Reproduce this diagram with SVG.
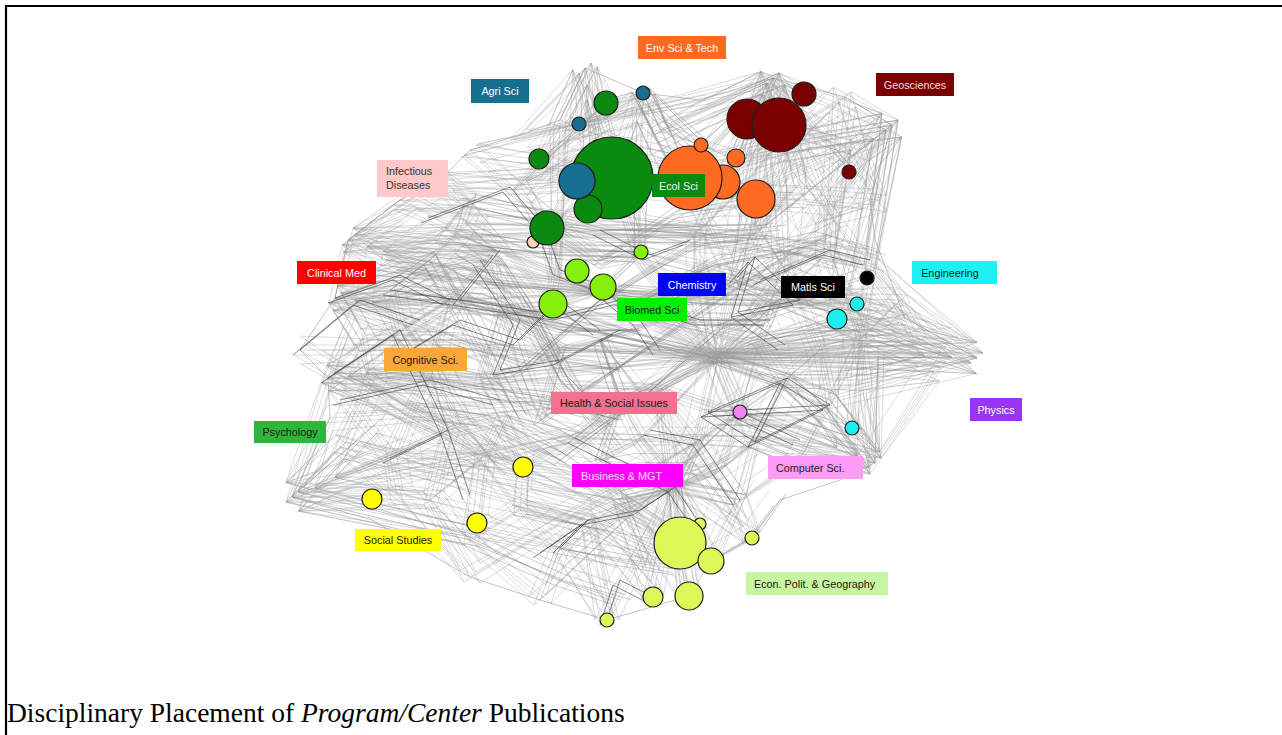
<svg xmlns="http://www.w3.org/2000/svg" width="1282" height="735" viewBox="0 0 1282 735">
<style>
.e{fill:none;stroke:#9c9c9c;stroke-width:0.85;stroke-opacity:0.42;stroke-linejoin:round}
.p{fill:none;stroke:#a0a0a0;stroke-width:0.9;stroke-opacity:0.7;stroke-linejoin:round}
.m{fill:none;stroke:#707070;stroke-width:0.85;stroke-opacity:0.4}
.d{fill:none;stroke:#3a3a3a;stroke-width:1;stroke-opacity:0.6}
.n{stroke:#1e1e1e;stroke-width:1.2}
.t{font-family:"Liberation Sans",Arial,sans-serif;font-size:10.8px}
.cap{font-family:"Liberation Serif","Times New Roman",serif;font-size:27.5px;fill:#000}
</style>
<defs>
<g id="mesh">
<path class="e" d="M470,150 L540,160 L520,185 L440,180 L470,200 L460,230 L545,228 L520,185 L610,140 L560,120 M400,200 L470,200 L440,235 L380,265 L430,260 L490,255 L460,230 L430,260 L390,290 L335,298 M348,240 L440,235 L490,255 L555,275 L545,228 L600,260 L640,252 L640,220 L700,230 L700,265 M640,220 L610,140 L700,160 L740,190 L700,230 L760,230 L740,190 L790,130 L800,180 L760,230 M800,180 L830,215 L880,200 L860,150 L790,130 L845,97 L860,150 L892,125 L880,200 L870,260 M830,215 L830,250 L870,260 L900,300 L860,340 L830,250 L785,270 L760,230 L735,280 L785,270 M735,280 L770,320 L785,270 L820,350 L860,340 L920,342 L900,300 L977,358 L920,342 L878,357 M700,265 L680,300 L660,320 L600,290 L555,275 L550,305 L600,290 L640,252 L680,300 L735,280 M550,305 L500,310 L450,300 L490,255 L500,310 L560,350 L600,340 L660,320 L760,340 L770,320 M450,300 L400,330 L390,290 L430,260 L450,300 L430,370 L400,330 L360,340 L335,298 L390,290 M360,340 L370,380 L430,370 L480,380 L500,310 L520,370 L560,350 L540,420 L520,370 L480,380 M370,380 L410,410 L448,430 L430,370 L410,410 L390,458 L340,447 L370,380 L328,378 L360,340 M448,430 L500,420 L480,380 L540,420 L575,438 L600,460 L620,400 L600,340 L620,400 L660,390 M660,390 L700,440 L640,440 L620,400 L575,438 L640,440 L600,460 L620,500 L680,487 L640,440 M500,420 L480,460 L448,430 L430,500 L480,460 L523,467 L500,420 L575,438 L523,467 L520,510 M430,500 L397,495 L390,458 L480,460 L470,540 L520,510 L560,548 L588,520 L520,510 L480,460 M470,540 L540,600 L560,548 L607,620 L588,520 L653,597 L620,500 L689,596 L680,543 L620,500 M397,495 L470,577 L430,500 L470,540 L292,497 L397,495 L340,447 L292,497 M760,340 L785,380 L820,350 L830,400 L785,380 L740,412 L760,340 L718,358 L785,380 M830,400 L800,460 L755,442 L785,380 L875,463 L830,400 L852,428 L860,340 L830,400 M720,470 L755,442 L740,500 L720,470 L700,440 L755,442 L800,460 L740,500 L752,538 L780,500 M680,487 L720,470 L740,412 L700,440 L680,487 L740,500 L711,561 L752,538 M540,160 L612,178 L545,228 L577,181 L520,185 L606,103 L540,160 M660,130 L700,110 L773,78 L740,160 L660,130 L643,93 L700,145 L773,78 M790,130 L740,160 L800,140 L892,125 L845,97 L800,140 L760,230"/>
<path class="e" d="M335,298 L600,290 M348,240 L640,252 M400,200 L700,230 M380,265 L720,300 M300,350 L560,350 M328,378 L660,390 M292,497 L575,438 M330,418 L620,400 M470,577 L700,440 M540,600 L740,412 M600,290 L900,300 M640,252 L905,318 M700,230 L870,260 M545,228 L830,250 M612,178 L880,200 M500,310 L770,320 M560,350 L878,357 M450,300 L718,358 M470,150 L773,78 M520,135 L700,100 M440,180 L700,160 M460,230 L760,230 M348,240 L560,350 M400,200 L600,290 M440,180 L550,305 M470,150 L600,260 M335,298 L520,370 M300,350 L480,460 M328,378 L523,467 M340,447 L588,520 M390,458 L620,500 M292,497 L560,548 M448,430 L680,543 M500,420 L711,561 M600,340 L752,538 M660,390 L875,463 M718,358 L977,358 M700,265 L952,342 M735,280 L940,367 M785,270 L977,358 M830,215 L905,318 M892,125 L860,340 M845,97 L830,250 M773,78 L785,270 M643,93 L735,280 M585,68 L640,252 M560,120 L555,275"/>
<path class="e" d="M718,358 L600,290 M718,358 L640,252 M718,358 L660,320 M718,358 L700,265 M718,358 L735,280 M718,358 L770,320 M718,358 L785,270 M718,358 L830,250 M718,358 L837,319 M718,358 L878,357 M718,358 L905,318 M718,358 L940,367 M718,358 L785,380 M718,358 L740,412 M718,358 L660,390 M718,358 L620,400 M718,358 L575,438 M718,358 L550,305 M718,358 L500,310 M718,358 L700,440 M718,358 L755,442 M718,358 L830,400 M718,358 L860,340 M718,358 L952,342 M718,358 L600,340 M718,358 L480,380 M718,358 L560,350 M718,358 L640,440 M718,358 L680,300"/>
<path class="e" d="M675,487 L680,543 M675,487 L700,524 M675,487 L711,561 M675,487 L689,596 M675,487 L653,597 M675,487 L588,520 M675,487 L560,548 M675,487 L620,500 M675,487 L740,500 M675,487 L752,538 M675,487 L700,440 M675,487 L755,442 M675,487 L720,470 M675,487 L523,467 M675,487 L600,460 M675,487 L607,620 M675,487 L640,440 M675,487 L660,390"/>
<path class="e" d="M773,78 L700,110 M773,78 L740,160 M773,78 L805,95 M773,78 L892,125 M773,78 L830,215 M773,78 L760,230 M773,78 L700,230 M773,78 L660,130 M773,78 L800,180 M773,78 L850,172 M773,78 L880,200 M773,78 L735,280 M773,78 L700,160 M773,78 L790,130 M892,125 L830,215 M892,125 L850,172 M892,125 L800,140 M892,125 L760,230 M892,125 L870,260 M892,125 L700,160 M892,125 L785,270 M892,125 L840,300 M892,125 L740,190 M585,68 L560,120 M585,68 L580,124 M585,68 L606,103 M585,68 L612,178 M585,68 L540,160 M585,68 L590,150 M585,68 L520,135 M643,93 L606,103 M643,93 L660,130 M643,93 L700,145 M643,93 L640,220 M643,93 L580,124 M643,93 L620,160 M643,93 L680,170 M643,93 L540,160"/>
<path class="e" d="M875,463 L852,428 M875,463 L830,400 M875,463 L785,380 M875,463 L755,442 M875,463 L800,460 M875,463 L860,400 M875,463 L940,367 M875,463 L878,357 M875,463 L740,412 M875,463 L860,340 M292,497 L330,418 M292,497 L340,447 M292,497 L390,458 M292,497 L448,430 M292,497 L470,540 M292,497 L328,378 M292,497 L380,420 M292,497 L430,500 M328,378 L390,458 M328,378 L448,430 M328,378 L400,330 M328,378 L350,320 M328,378 L430,370 M328,378 L480,380 M328,378 L390,400 M328,378 L450,300 M335,298 L400,330 M335,298 L430,300 M335,298 L348,240 M335,298 L430,260 M335,298 L500,310 M335,298 L360,340 M335,298 L460,330 M335,298 L490,255 M348,240 L400,200 M348,240 L380,265 M348,240 L430,260 M348,240 L460,230 M348,240 L490,255 M348,240 L410,215 M348,240 L440,180 M977,358 L905,318 M977,358 L878,357 M977,358 L860,340 M977,358 L837,319 M977,358 L870,260 M977,358 L830,400"/>
<path class="m" d="M470,200 L600,230 L700,230 M440,235 L560,250 L640,252 M380,265 L500,280 L600,290 L700,300 M390,290 L480,300 L560,330 L640,330 M360,340 L460,340 L540,360 L620,370 M370,380 L460,390 L540,400 L620,420 M410,410 L480,420 L560,460 M450,260 L520,300 L560,380 L600,420 M490,255 L540,330 L580,400 L620,450 M430,260 L470,330 L520,420 M400,330 L460,420 L500,470 M540,420 L600,380 L660,340 L720,300 L780,260 L840,230 M560,460 L640,400 L720,330 L800,300 L860,280 M600,260 L680,210 L740,200 L800,200 M520,370 L600,300 L700,240 L780,230 M640,300 L720,260 L820,240 L880,260 M700,300 L790,300 L870,300 M760,340 L840,330 L900,330 M785,380 L860,380 L940,367 M720,420 L800,420 L860,440 M580,480 L640,470 L700,470 M520,510 L600,530 L660,560 M470,540 L560,580 L620,600 M560,548 L620,560 L680,570"/>
</g>
<g id="meshd">
<path class="d" d="M428,218 L510,187 L545,228 M390,290 L560,315 L620,300 L680,300 M737,278 L755,257 L738,312 L800,300 L755,257 M738,312 L785,345 M708,412 L787,378 L830,405 L755,442 L708,412 L830,405 M787,378 L755,442 M740,412 L800,440 M540,553 L588,520 L560,548 M588,520 L640,510 L675,487 M335,298 L400,275 L450,300 M340,400 L430,380 L500,400 M328,378 L400,330 L448,430 M390,458 L448,430 L470,495 M480,260 L520,320 L500,370 L560,360 L620,330 M600,230 L650,255 L690,240 M640,300 L700,320 L770,320 M760,280 L830,250 L870,260 M300,350 L360,300 L420,320 M650,430 L700,440 L740,500 M607,620 L620,580 L653,597 M675,487 L700,524 M575,438 L640,470 L675,487 M410,350 L460,320 L520,340 L560,300 L600,330 M460,300 L500,250 M545,228 L560,270 L600,285 M600,287 L640,320 L660,350"/>
</g>
</defs>
<rect x="0" y="0" width="1282" height="735" fill="#fff"/>
<path d="M6,735 L6,6 L1282,6" fill="none" stroke="#000" stroke-width="2.2"/>
<g id="connectors">
<path class="p" d="M585,68 L643,93 L700,100 L773,78 L845,97 L892,125 L870,200 L875,240 L905,318 L977,358 L940,367 L878,357 L875,463 L840,480 L780,500 L751,538 L711,561 L689,596 L607,620 L540,600 L470,577 L372,520 L292,497 L330,418 L328,378 L300,350 L335,298 L348,240 L400,200 L440,180 L470,150 L520,135 L560,120 L585,68 Z"/>
<use href="#mesh"/>
<use href="#mesh" transform="translate(6,-5)"/>
<use href="#mesh" transform="translate(-6,5)"/>
<use href="#mesh" transform="rotate(2.5 620 350)"/>
<use href="#mesh" transform="rotate(-2.5 620 350)"/>
<use href="#mesh" transform="matrix(0.93 0 0 0.94 43.4 21)"/>
<use href="#mesh" transform="matrix(0.86 0 0 0.88 84 40)"/>
<use href="#meshd"/>
<use href="#meshd" transform="translate(-7,5)"/>
</g>
<g id="node-ecol-1"><circle class="n" cx="612" cy="178" r="41" fill="#0b8a10"/></g>
<g id="node-ecol-2"><circle class="n" cx="606" cy="103" r="12" fill="#0b8a10"/></g>
<g id="node-ecol-3"><circle class="n" cx="539" cy="159" r="10" fill="#0b8a10"/></g>
<g id="node-ecol-4"><circle class="n" cx="588" cy="209" r="14" fill="#0b8a10"/></g>
<g id="node-infect"><circle class="n" cx="533" cy="242" r="6" fill="#fbd3b2"/></g>
<g id="node-ecol-5"><circle class="n" cx="547" cy="228" r="17" fill="#0b8a10"/></g>
<g id="node-agri-1"><circle class="n" cx="577" cy="181" r="18" fill="#176f90"/></g>
<g id="node-agri-2"><circle class="n" cx="643" cy="93" r="7" fill="#176f90"/></g>
<g id="node-agri-3"><circle class="n" cx="579" cy="124" r="7" fill="#176f90"/></g>
<g id="node-env-1"><circle class="n" cx="723" cy="182" r="17" fill="#fd6a22"/></g>
<g id="node-env-2"><circle class="n" cx="690" cy="178" r="32" fill="#fd6a22"/></g>
<g id="node-env-3"><circle class="n" cx="701" cy="145" r="7" fill="#fd6a22"/></g>
<g id="node-env-4"><circle class="n" cx="736" cy="158" r="9" fill="#fd6a22"/></g>
<g id="node-env-5"><circle class="n" cx="756" cy="199" r="19" fill="#fd6a22"/></g>
<g id="node-geo-1"><circle class="n" cx="747" cy="119" r="20" fill="#7a0000"/></g>
<g id="node-geo-2"><circle class="n" cx="779" cy="125" r="27" fill="#7a0000"/></g>
<g id="node-geo-3"><circle class="n" cx="804" cy="94" r="12" fill="#7a0000"/></g>
<g id="node-geo-4"><circle class="n" cx="849" cy="172" r="7" fill="#7a0000"/></g>
<g id="node-bio-1"><circle class="n" cx="641" cy="252" r="7" fill="#84f00c"/></g>
<g id="node-bio-2"><circle class="n" cx="577" cy="271" r="12" fill="#84f00c"/></g>
<g id="node-bio-3"><circle class="n" cx="603" cy="287" r="13" fill="#84f00c"/></g>
<g id="node-bio-4"><circle class="n" cx="553" cy="304" r="14" fill="#84f00c"/></g>
<g id="node-matls"><circle class="n" cx="867" cy="278" r="7" fill="#000"/></g>
<g id="node-eng-1"><circle class="n" cx="857" cy="304" r="7" fill="#1cefef"/></g>
<g id="node-eng-2"><circle class="n" cx="837" cy="319" r="10" fill="#1cefef"/></g>
<g id="node-eng-3"><circle class="n" cx="852" cy="428" r="7" fill="#1cefef"/></g>
<g id="node-cs"><circle class="n" cx="740" cy="412" r="7" fill="#f283f2"/></g>
<g id="node-soc-1"><circle class="n" cx="523" cy="467" r="10" fill="#ffff00"/></g>
<g id="node-soc-2"><circle class="n" cx="372" cy="499" r="10" fill="#ffff00"/></g>
<g id="node-soc-3"><circle class="n" cx="477" cy="523" r="10" fill="#ffff00"/></g>
<g id="node-econ-1"><circle class="n" cx="700" cy="524" r="6" fill="#dbf758"/></g>
<g id="node-econ-2"><circle class="n" cx="680" cy="543" r="26" fill="#dbf758"/></g>
<g id="node-econ-3"><circle class="n" cx="711" cy="561" r="13" fill="#dbf758"/></g>
<g id="node-econ-4"><circle class="n" cx="689" cy="596" r="14" fill="#dbf758"/></g>
<g id="node-econ-5"><circle class="n" cx="653" cy="597" r="10" fill="#dbf758"/></g>
<g id="node-econ-6"><circle class="n" cx="607" cy="620" r="7" fill="#dbf758"/></g>
<g id="node-econ-7"><circle class="n" cx="752" cy="538" r="7" fill="#dbf758"/></g>
<g id="label-env"><rect x="638" y="36" width="88" height="23" fill="#fd6a1e"/><text class="t" x="682" y="52" text-anchor="middle" fill="#fff">Env Sci &amp; Tech</text></g>
<g id="label-agri"><rect x="471" y="79" width="58" height="24" fill="#176f90"/><text class="t" x="500" y="95" text-anchor="middle" fill="#fff">Agri Sci</text></g>
<g id="label-geo"><rect x="876" y="73" width="78" height="23" fill="#7a0000"/><text class="t" x="915" y="88.5" text-anchor="middle" fill="#f4dede">Geosciences</text></g>
<g id="label-infect"><rect x="377" y="160" width="71" height="37" fill="#ffc9c9"/><text class="t" x="386" y="175" fill="#333">Infectious</text><text class="t" x="386" y="189" fill="#333">Diseases</text></g>
<g id="label-ecol"><rect x="652" y="174" width="53" height="23" fill="#0b8a10"/><text class="t" x="678.5" y="189.5" text-anchor="middle" fill="#eaf5ea">Ecol Sci</text></g>
<g id="label-clin"><rect x="297" y="261" width="79" height="23" fill="#ff0000"/><text class="t" x="336.5" y="276.5" text-anchor="middle" fill="#fff">Clinical Med</text></g>
<g id="label-chem"><rect x="658" y="273" width="68" height="23" fill="#0000ff"/><text class="t" x="692" y="288.5" text-anchor="middle" fill="#fff">Chemistry</text></g>
<g id="label-bio"><rect x="617" y="298" width="70" height="23" fill="#00f000"/><text class="t" x="652" y="313.5" text-anchor="middle" fill="#1a1a1a">Biomed Sci</text></g>
<g id="label-matls"><rect x="781" y="276" width="64" height="22" fill="#000"/><text class="t" x="813" y="291" text-anchor="middle" fill="#fff">Matls Sci</text></g>
<g id="label-eng"><rect x="912" y="261" width="85" height="23" fill="#1cf2f2"/><text class="t" x="950" y="276.5" text-anchor="middle" fill="#1a1a1a">Engineering</text></g>
<g id="label-phys"><rect x="970" y="398" width="52" height="23" fill="#9a35f5"/><text class="t" x="996" y="413.5" text-anchor="middle" fill="#fff">Physics</text></g>
<g id="label-cog"><rect x="384" y="348" width="83" height="23" fill="#f9a73a"/><text class="t" x="425.5" y="363.5" text-anchor="middle" fill="#1a1a1a">Cognitive Sci.</text></g>
<g id="label-health"><rect x="551" y="392" width="126" height="22" fill="#f0728e"/><text class="t" x="614" y="407" text-anchor="middle" fill="#1a1a1a">Health &amp; Social Issues</text></g>
<g id="label-psych"><rect x="254" y="421" width="72" height="22" fill="#2fb53a"/><text class="t" x="290" y="436" text-anchor="middle" fill="#1a1a1a">Psychology</text></g>
<g id="label-bus"><rect x="572" y="464" width="111" height="23" fill="#ff00ff"/><text class="t" x="581" y="479.5" fill="#fbe0fb">Business &amp; MGT</text></g>
<g id="label-soc"><rect x="355" y="529" width="86" height="22" fill="#ffff00"/><text class="t" x="398" y="544" text-anchor="middle" fill="#1a1a1a">Social Studies</text></g>
<g id="label-cs"><rect x="768" y="456" width="95" height="23" fill="#ff9cf5"/><text class="t" x="776" y="471.5" fill="#1a1a1a">Computer Sci.</text></g>
<g id="label-econ"><rect x="746" y="572" width="142" height="23" fill="#c8f5a2"/><text class="t" x="754" y="587.5" fill="#1a1a1a">Econ. Polit. &amp; Geography</text></g>
<text class="cap" x="7" y="722">Disciplinary Placement of <tspan font-style="italic">Program/Center</tspan> Publications</text>
</svg>
